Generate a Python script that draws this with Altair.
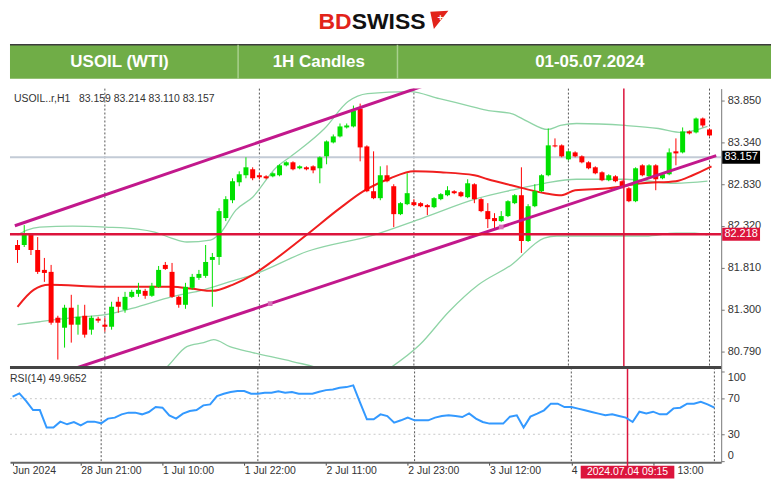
import altair as alt
import pandas as pd

# ---------------- data ----------------
bar_index = list(range(104))
open_price = [82.086, 82.086, 82.208, 82.025, 81.782, 81.758, 81.198, 81.076, 81.320, 81.113,
              81.222, 81.052, 81.186, 81.113, 81.088, 81.393, 81.295, 81.453, 81.490, 81.526,
              81.466, 81.575, 81.843, 81.758, 81.453, 81.356, 81.563, 81.685, 81.709, 81.904,
              81.940, 82.415, 82.633, 82.852, 82.938, 83.011, 82.938, 82.925, 82.925, 82.938,
              83.059, 83.096, 83.023, 83.035, 83.047, 83.023, 83.169, 83.339, 83.412, 83.522,
              83.534, 83.753, 83.290, 82.743, 82.658, 82.938, 82.804, 82.463, 82.585, 82.609,
              82.597, 82.573, 82.548, 82.646, 82.694, 82.743, 82.731, 82.670, 82.828, 82.646,
              82.500, 82.415, 82.378, 82.439, 82.597, 82.694, 82.135, 82.560, 82.743, 82.938,
              83.303, 83.303, 83.132, 83.217, 83.169, 83.096, 83.035, 82.974, 82.877, 82.925,
              82.865, 82.779, 82.621, 83.059, 82.925, 83.059, 82.901, 82.950, 83.230, 83.217,
              83.473, 83.461, 83.631, 83.497]
high_price = [82.147, 82.329, 82.232, 82.183, 81.928, 81.843, 81.222, 81.356, 81.478, 81.356,
              81.356, 81.222, 81.210, 81.198, 81.393, 81.453, 81.514, 81.539, 81.624, 81.551,
              81.624, 81.830, 81.879, 81.867, 81.466, 81.624, 81.733, 81.782, 82.086, 81.989,
              82.536, 82.682, 82.901, 82.986, 83.157, 83.035, 82.962, 82.938, 82.974, 83.072,
              83.108, 83.108, 83.059, 83.047, 83.059, 83.169, 83.363, 83.436, 83.570, 83.570,
              83.789, 83.813, 83.303, 83.230, 83.047, 83.059, 82.828, 82.609, 82.962, 82.646,
              82.609, 82.585, 82.670, 82.719, 82.804, 82.755, 82.743, 82.889, 82.840, 82.658,
              82.597, 82.475, 82.500, 82.633, 82.707, 83.035, 82.585, 82.828, 82.950, 83.509,
              83.388, 83.315, 83.242, 83.230, 83.181, 83.108, 83.047, 82.986, 82.950, 82.938,
              82.877, 82.792, 83.035, 83.072, 83.072, 83.072, 82.962, 83.266, 83.388, 83.522,
              83.485, 83.643, 83.643, 83.509]
low_price = [81.867, 82.062, 81.964, 81.733, 81.636, 81.113, 80.687, 80.833, 80.894, 80.991,
             80.955, 80.991, 81.137, 81.027, 81.052, 81.259, 81.259, 81.441, 81.453, 81.429,
             81.453, 81.563, 81.782, 81.441, 81.320, 81.307, 81.539, 81.660, 81.685, 81.332,
             81.843, 82.378, 82.597, 82.804, 82.901, 82.877, 82.889, 82.889, 82.913, 82.925,
             83.047, 82.998, 83.011, 82.998, 82.962, 82.840, 83.072, 83.327, 83.400, 83.509,
             83.522, 83.108, 82.731, 82.646, 82.633, 82.852, 82.305, 82.451, 82.573, 82.560,
             82.548, 82.451, 82.536, 82.633, 82.682, 82.707, 82.670, 82.658, 82.597, 82.487,
             82.293, 82.293, 82.366, 82.427, 82.585, 81.989, 82.123, 82.548, 82.731, 82.925,
             83.278, 83.157, 83.120, 83.157, 83.084, 83.011, 82.950, 82.865, 82.865, 82.852,
             82.779, 82.609, 82.609, 82.925, 82.913, 82.755, 82.889, 82.938, 83.059, 83.205,
             83.436, 83.449, 83.522, 83.412]
close_price = [82.025, 82.208, 82.025, 81.758, 81.745, 81.137, 81.137, 81.320, 81.113, 81.210,
               80.991, 81.198, 81.162, 81.088, 81.332, 81.332, 81.453, 81.514, 81.539, 81.466,
               81.587, 81.782, 81.794, 81.453, 81.356, 81.575, 81.697, 81.733, 81.879, 81.940,
               82.500, 82.646, 82.865, 82.950, 83.035, 82.901, 82.913, 82.901, 82.962, 83.059,
               83.096, 83.011, 83.047, 83.011, 82.998, 83.157, 83.351, 83.412, 83.534, 83.546,
               83.728, 83.278, 82.743, 82.658, 82.938, 82.865, 82.463, 82.597, 82.719, 82.573,
               82.560, 82.548, 82.658, 82.707, 82.755, 82.719, 82.682, 82.840, 82.646, 82.500,
               82.402, 82.378, 82.439, 82.621, 82.694, 82.135, 82.560, 82.743, 82.938, 83.303,
               83.290, 83.169, 83.230, 83.169, 83.096, 83.023, 82.962, 82.877, 82.938, 82.865,
               82.792, 82.621, 83.023, 82.938, 83.059, 82.889, 82.950, 83.217, 83.205, 83.473,
               83.449, 83.631, 83.546, 83.424]
rsi_value = [72.2, 75.9, 67.3, 57.2, 57.2, 37.5, 37.5, 44.2, 41.2, 43.8,
             40.1, 44.2, 44.2, 42.3, 47.6, 48.7, 52.4, 54.3, 54.3, 52.4,
             55.0, 60.6, 59.9, 51.3, 47.6, 53.2, 56.1, 57.2, 62.5, 63.6,
             72.9, 75.6, 77.4, 78.5, 78.5, 75.6, 75.6, 76.7, 76.7, 78.2,
             76.7, 77.4, 75.6, 75.6, 75.6, 77.8, 79.6, 80.4, 82.3, 83.0,
             84.9, 65.5, 46.8, 46.8, 52.4, 50.5, 43.1, 45.7, 48.7, 45.7,
             45.7, 45.7, 48.7, 50.5, 51.3, 50.5, 49.4, 53.5, 47.6, 43.8,
             42.0, 42.0, 42.0, 49.8, 51.3, 37.5, 49.8, 53.2, 56.9, 64.4,
             64.4, 60.6, 60.6, 58.8, 56.9, 55.0, 53.2, 51.3, 52.4, 50.5,
             48.7, 43.8, 55.4, 53.5, 55.4, 52.4, 52.4, 59.1, 59.9, 64.4,
             64.4, 66.6, 63.6, 59.9]

ma_idx = [0, 2.4, 4.7, 13, 23, 26, 29, 32, 35, 38, 43, 48, 51.5, 55.5, 59, 63, 68, 70,
          73.5, 78.5, 81, 83, 88, 93, 98, 100.5, 103.3]
ma_val = [81.332, 81.539, 81.600, 81.575, 81.575, 81.551, 81.526, 81.600, 81.721, 81.891,
          82.208, 82.536, 82.743, 82.901, 82.986, 82.974, 82.938, 82.889, 82.816, 82.719,
          82.694, 82.755, 82.779, 82.840, 82.865, 82.938, 83.047]

bb_up_idx = [0, 1.4, 3.3, 8.2, 13.1, 17.9, 20.4, 22.9, 25.2, 28.7, 30.2, 32.5, 35, 38.4,
             40.9, 45.7, 49.2, 52.1, 58.4, 62.8, 67.6, 70.1, 73.5, 75.9, 78.9, 80.8, 83.2,
             90.5, 95.4, 98.9, 102.7]
bb_up_val = [82.208, 82.268, 82.305, 82.317, 82.305, 82.281, 82.244, 82.171, 82.123, 82.147,
             82.232, 82.512, 82.670, 83.023, 83.181, 83.509, 83.838, 83.935, 83.960, 83.874,
             83.777, 83.728, 83.692, 83.595, 83.497, 83.546, 83.570, 83.546, 83.509, 83.461,
             83.534]
bb_mid_idx = [0, 3.3, 8.2, 13.1, 17.9, 22.9, 27.7, 32.5, 35, 43.3, 53, 60.3, 68.6, 73.5,
              78.4, 83.2, 90.5, 97.9, 102.7]
bb_mid_val = [81.113, 81.149, 81.198, 81.235, 81.332, 81.453, 81.539, 81.660, 81.721, 82.013,
              82.208, 82.415, 82.658, 82.755, 82.840, 82.889, 82.889, 82.840, 82.865]
bb_lo_idx = [21.9, 22.6, 25.2, 27.7, 29.2, 31.6, 35, 40.9, 46, 50, 54.7, 59.9, 64.2, 68.6,
             73.5, 78.4, 80.3, 86.2, 93.5, 98, 100.8, 102.7]
bb_lo_val = [80.565, 80.626, 80.845, 80.894, 80.930, 80.845, 80.772, 80.663, 80.540, 80.300,
             80.540, 80.870, 81.271, 81.600, 81.843, 82.171, 82.196, 82.196, 82.196, 82.232,
             82.232, 82.208]

chan_up_idx = [-0.4, 62.0]
chan_up_val = [82.321, 84.073]
chan_lo_idx = [5.0, 104.0]
chan_lo_val = [80.483, 83.177]
anchor_idx = [37.6, 72.0]
anchor_val = [81.370, 82.306]

support_level = [82.218]
bid_level = [83.157]
price_ticks = [80.790, 81.300, 81.810, 82.320, 82.830, 83.340, 83.850]
rsi_ticks = [0, 30, 70, 100]
rsi_levels = [30, 70]
day_sep_idx = [13, 36, 59, 82, 103]
cursor_idx = [90.25]
cursor_label = "2024.07.04 09:15"
time_tick_idx = [0, 10, 22, 34, 46, 58, 70, 82, 94]
time_tick_text = ["Jun 2024", "28 Jun 21:00", "1 Jul 10:00", "1 Jul 22:00", "2 Jul 11:00",
                  "2 Jul 23:00", "3 Jul 12:00", "4", "13:00"]

# ---------------- layout constants ----------------
W = 714
HEAD_H = 80
MAIN_H = 280
RSI_H = 95
FONT = "Liberation Sans"
UP = "#00E000"
DN = "#FF0000"
BAND = "#8FD4A6"
CRIMSON = "#DC143C"
PURPLE = "#C2188C"

XS = alt.Scale(domain=[-0.38, 104.0], nice=False, zero=False)
YS = alt.Scale(domain=[80.59, 83.996], nice=False, zero=False)
RS = alt.Scale(domain=[-1.3, 105.0], nice=False, zero=False)

YAX = alt.Axis(orient="right", values=price_ticks, format=".3f", title=None, grid=False,
               tickSize=3, labelPadding=3, domainColor="#777", tickColor="#777",
               labelColor="#333", labelFontSize=11, labelFont=FONT)
RAX = alt.Axis(orient="right", values=rsi_ticks, title=None, grid=False, tickSize=3,
               labelPadding=3, labelFlush=10, domainColor="#777", tickColor="#777",
               labelColor="#333", labelFontSize=11, labelFont=FONT)
label_expr = "".join(f"datum.value == {v} ? '{t}' : " for v, t in zip(time_tick_idx, time_tick_text)) + "''"
XAX = alt.Axis(values=time_tick_idx, labelExpr=label_expr, labelAlign="left", labelFlush=False,
               labelOverlap=False, tickSize=3, labelPadding=0, title=None, grid=False,
               labelOffset={"condition": {"test": f"datum.value == {time_tick_idx[-1]}", "value": 24},
                            "value": 0},
               domainColor="#666", domainWidth=2, tickColor="#444", labelColor="#333",
               labelFontSize=10.5, labelFont=FONT)


def XM(f):
    return alt.X(f, type="quantitative", scale=XS, axis=None)


def YM(f):
    return alt.Y(f, type="quantitative", scale=YS, axis=YAX)


def XR(f):
    return alt.X(f, type="quantitative", scale=XS, axis=XAX)


def YR(f):
    return alt.Y(f, type="quantitative", scale=RS, axis=RAX)


one_row = pd.DataFrame({"k": [0]})
candles = pd.DataFrame({"i": bar_index, "o": open_price, "h": high_price,
                        "l": low_price, "c": close_price})
rsi_df = pd.DataFrame({"i": bar_index, "r": rsi_value})
bands = pd.concat([
    pd.DataFrame({"band": "up", "i": bb_up_idx, "v": bb_up_val}),
    pd.DataFrame({"band": "mid", "i": bb_mid_idx, "v": bb_mid_val}),
    pd.DataFrame({"band": "lo", "i": bb_lo_idx, "v": bb_lo_val}),
])
ma_df = pd.DataFrame({"i": ma_idx, "v": ma_val})
chans = pd.concat([
    pd.DataFrame({"line": "up", "i": chan_up_idx, "v": chan_up_val}),
    pd.DataFrame({"line": "lo", "i": chan_lo_idx, "v": chan_lo_val}),
])
anchors = pd.DataFrame({"i": anchor_idx, "v": anchor_val})
seps = pd.DataFrame({"i": day_sep_idx})
cursor = pd.DataFrame({"i": cursor_idx, "t": [cursor_label]})
boxes = pd.DataFrame({"p": bid_level + support_level,
                      "t": [f"{bid_level[0]:.3f}", f"{support_level[0]:.3f}"],
                      "bg": ["#000000", CRIMSON]})

# ---------------- header ----------------
def deco_text(txt, x, y, **kw):
    return alt.Chart(one_row).mark_text(text=txt, **kw).encode(x=alt.value(x), y=alt.value(y))


banner = alt.Chart(one_row).mark_rect(color="#70AD47").encode(
    x=alt.value(0), x2=alt.value(764), y=alt.value(36), y2=alt.value(70))
banner_top = alt.Chart(one_row).mark_rule(color="#3C3C3C", strokeWidth=1.5).encode(
    x=alt.value(0), x2=alt.value(764), y=alt.value(36))
div_a = alt.Chart(one_row).mark_rule(color="#A9D08E", strokeWidth=1.5).encode(
    x=alt.value(229), y=alt.value(36), y2=alt.value(70))
div_b = alt.Chart(one_row).mark_rule(color="#A9D08E", strokeWidth=1.5).encode(
    x=alt.value(389), y=alt.value(36), y2=alt.value(70))
banner_font = "Liberation Sans Narrow, Arial Narrow, Liberation Sans"
t1 = deco_text("USOIL (WTI)", 110, 53, font=banner_font, fontSize=17, fontWeight="bold",
               color="white", align="center", baseline="middle")
t2 = deco_text("1H Candles", 310, 53, font=banner_font, fontSize=17, fontWeight="bold",
               color="white", align="center", baseline="middle")
t3 = deco_text("01-05.07.2024", 582, 53, font=banner_font, fontSize=17, fontWeight="bold",
               color="white", align="center", baseline="middle")
logo_bd = deco_text("BD", 343, 13, font=FONT, fontSize=23, fontWeight="bold",
                    color="#E2231A", align="right", baseline="middle")
logo_sw = deco_text("SWISS", 343, 13, font=FONT, fontSize=23, fontWeight="bold",
                    color="#111111", align="left", baseline="middle")
flag = alt.Chart(one_row).mark_point(shape="M -1 -0.9 L 1 -1 L -0.6 1 Z", filled=True,
                                     color="#E2231A", size=330, opacity=1).encode(
    x=alt.value(431), y=alt.value(11))
flag_cross = deco_text("+", 432, 9, font=FONT, fontSize=10, fontWeight="bold",
                       color="white", align="center", baseline="middle")

header = alt.layer(banner, banner_top, div_a, div_b, t1, t2, t3, logo_bd, logo_sw,
                   flag, flag_cross).properties(width=764, height=HEAD_H)

# ---------------- main price panel ----------------
cond = alt.condition("datum.c >= datum.o", alt.value(UP), alt.value(DN))

sep_main = alt.Chart(seps).mark_rule(color="#555", strokeDash=[2, 2], strokeWidth=1).encode(
    x=XM("i"), y=alt.value(0), y2=alt.value(MAIN_H))
bid_line = alt.Chart(pd.DataFrame({"p": bid_level})).mark_rule(
    color="#C3CBD6", strokeWidth=2).encode(y=YM("p"), x=alt.value(0), x2=alt.value(W))
band_lines = alt.Chart(bands).mark_line(color=BAND, strokeWidth=1.3, clip=True,
                                        interpolate="monotone").encode(
    x=XM("i"), y=YM("v"), detail="band:N")
ma_line = alt.Chart(ma_df).mark_line(color="#F01E1E", strokeWidth=2, clip=True,
                                     interpolate="monotone").encode(x=XM("i"), y=YM("v"))
wicks = alt.Chart(candles).mark_rule(strokeWidth=1).encode(
    x=XM("i"), y=YM("l"), y2=alt.Y2("h"), color=cond)
bodies = alt.Chart(candles).mark_bar(size=5).encode(
    x=XM("i"), y=YM("o"), y2=alt.Y2("c"), color=cond)
chan_lines = alt.Chart(chans).mark_line(color=PURPLE, strokeWidth=3, clip=True).encode(
    x=XM("i"), y=YM("v"), detail="line:N")
anchor_pts = alt.Chart(anchors).mark_point(shape="square", size=22, filled=True,
                                           color="#D770B8", opacity=1).encode(
    x=XM("i"), y=YM("v"))
support = alt.Chart(pd.DataFrame({"p": support_level})).mark_rule(
    color=CRIMSON, strokeWidth=2.5).encode(y=YM("p"), x=alt.value(0), x2=alt.value(W))
cursor_main = alt.Chart(cursor).mark_rule(color=CRIMSON, strokeWidth=1.5).encode(
    x=XM("i"), y=alt.value(0), y2=alt.value(MAIN_H))
info = deco_text("USOIL..r,H1\u00a0\u00a0 83.159 83.214 83.110 83.157", 4, 10, font=FONT,
                 fontSize=10.5, color="#333", align="left", baseline="middle")
box_bg = alt.Chart(boxes).mark_tick(orient="horizontal", thickness=13, size=38,
                                    opacity=1).encode(
    y=YM("p"), x=alt.value(W + 20), color=alt.Color("bg:N", scale=None))
box_txt = alt.Chart(boxes).mark_text(color="white", fontSize=11, font=FONT,
                                     align="center", baseline="middle").encode(
    y=YM("p"), x=alt.value(W + 20), text="t:N")

main = alt.layer(sep_main, bid_line, band_lines, ma_line, wicks, bodies, chan_lines,
                 anchor_pts, support, cursor_main, info, box_bg, box_txt).properties(
    width=W, height=MAIN_H)

# ---------------- RSI panel ----------------
lvl = alt.Chart(pd.DataFrame({"r": rsi_levels})).mark_rule(
    color="#C8C8C8", strokeDash=[2, 3], strokeWidth=1).encode(
    y=YR("r"), x=alt.value(0), x2=alt.value(W))
sep_rsi = alt.Chart(seps).mark_rule(color="#555", strokeDash=[2, 2], strokeWidth=1).encode(
    x=XR("i"), y=alt.value(0), y2=alt.value(RSI_H))
cursor_rsi = alt.Chart(cursor).mark_rule(color=CRIMSON, strokeWidth=1.5).encode(
    x=XR("i"), y=alt.value(0), y2=alt.value(RSI_H + 6))
rsi_line = alt.Chart(rsi_df).mark_line(color="#3399FF", strokeWidth=2).encode(
    x=XR("i"), y=YR("r"))
panel_sep = alt.Chart(one_row).mark_rule(color="#444", strokeWidth=3).encode(
    x=alt.value(0), x2=alt.value(W), y=alt.value(0))
rsi_label = deco_text("RSI(14) 49.9652", 0, 12, font=FONT, fontSize=10.5, color="#333",
                      align="left", baseline="middle")
date_bg = alt.Chart(cursor).mark_tick(orient="horizontal", thickness=13, size=94, opacity=1,
                                      color=CRIMSON).encode(
    x=XR("i"), y=alt.value(RSI_H + 10))
date_txt = alt.Chart(cursor).mark_text(color="white", fontSize=10.5, font=FONT,
                                       align="center", baseline="middle").encode(
    x=XR("i"), y=alt.value(RSI_H + 10), text="t:N")

rsi_panel = alt.layer(lvl, sep_rsi, cursor_rsi, rsi_line, panel_sep, rsi_label,
                      date_bg, date_txt).properties(width=W, height=RSI_H)

chart = alt.vconcat(header, main, rsi_panel, spacing=0, bounds="flush").properties(
    padding=0, background="white"
).configure_view(stroke=None)

chart.save("out.html", embed_options={"renderer": "svg", "actions": False})
